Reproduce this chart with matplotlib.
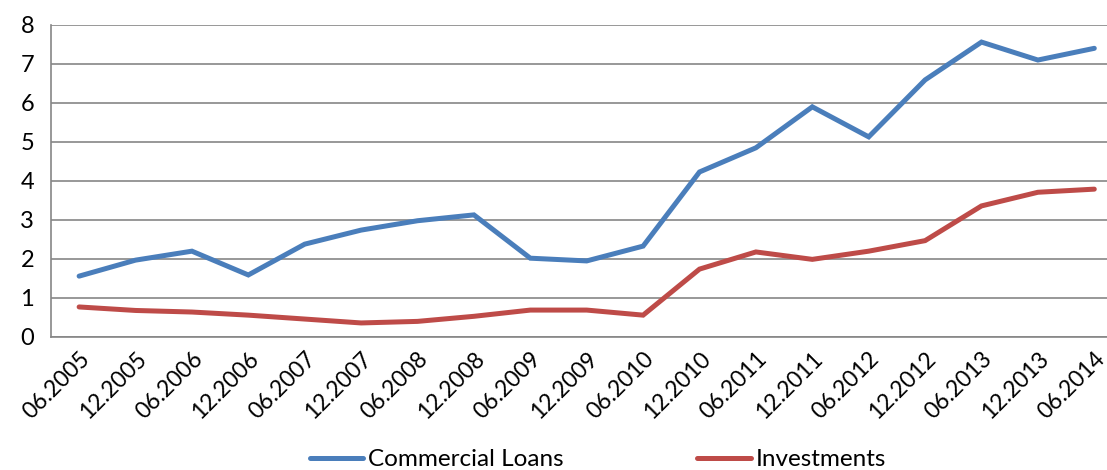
import numpy as np
import matplotlib.pyplot as plt

plt.rcParams['font.family'] = ['Lato', 'DejaVu Sans']

periods = ['06.2005', '12.2005', '06.2006', '12.2006', '06.2007', '12.2007',
           '06.2008', '12.2008', '06.2009', '12.2009', '06.2010', '12.2010',
           '06.2011', '12.2011', '06.2012', '12.2012', '06.2013', '12.2013',
           '06.2014']
commercial_loans = [1.56, 1.97, 2.20, 1.59, 2.38, 2.74, 2.98, 3.13, 2.02, 1.95,
                    2.33, 4.23, 4.85, 5.90, 5.13, 6.59, 7.56, 7.10, 7.40]
investments = [0.77, 0.68, 0.64, 0.56, 0.46, 0.36, 0.40, 0.53, 0.69, 0.69,
               0.56, 1.74, 2.18, 1.99, 2.20, 2.47, 3.36, 3.71, 3.79]

fig = plt.figure(figsize=(11.07, 4.70), dpi=100)
# plot area runs a little past the right edge of the canvas
ax = fig.add_axes([0.046, 0.283, 0.968, 0.664])

x = np.arange(len(periods))
ax.plot(x, commercial_loans, color='#4A7EBB', lw=3.6, label='Commercial Loans',
        solid_capstyle='round', solid_joinstyle='miter')
ax.plot(x, investments, color='#BE4B48', lw=3.6, label='Investments',
        solid_capstyle='round', solid_joinstyle='miter')

ax.set_xlim(-0.5, len(periods) - 0.5)
ax.set_ylim(0, 8)
ax.set_yticks(range(0, 9))
ax.yaxis.grid(True, color='#868686', lw=1.2)
ax.set_axisbelow(True)

for s in ['top', 'right']:
    ax.spines[s].set_visible(False)
ax.spines['left'].set_color('#868686')
ax.spines['bottom'].set_color('#868686')
ax.spines['left'].set_linewidth(1.2)
ax.spines['bottom'].set_linewidth(1.2)

ax.set_xticks(x)
ax.set_xticklabels(periods, rotation=45, ha='right', va='top',
                   rotation_mode='anchor', fontsize=16.5)
ax.tick_params(axis='x', length=0, pad=8)
ax.tick_params(axis='y', length=0, pad=12, labelsize=17)

fig.legend(loc='lower center', bbox_to_anchor=(0.54, -0.042), ncol=2,
           frameon=False, fontsize=17.5, handlelength=2.2, handletextpad=0.2,
           columnspacing=5.5, borderpad=0.3)

fig.savefig('out.png', dpi=100)
